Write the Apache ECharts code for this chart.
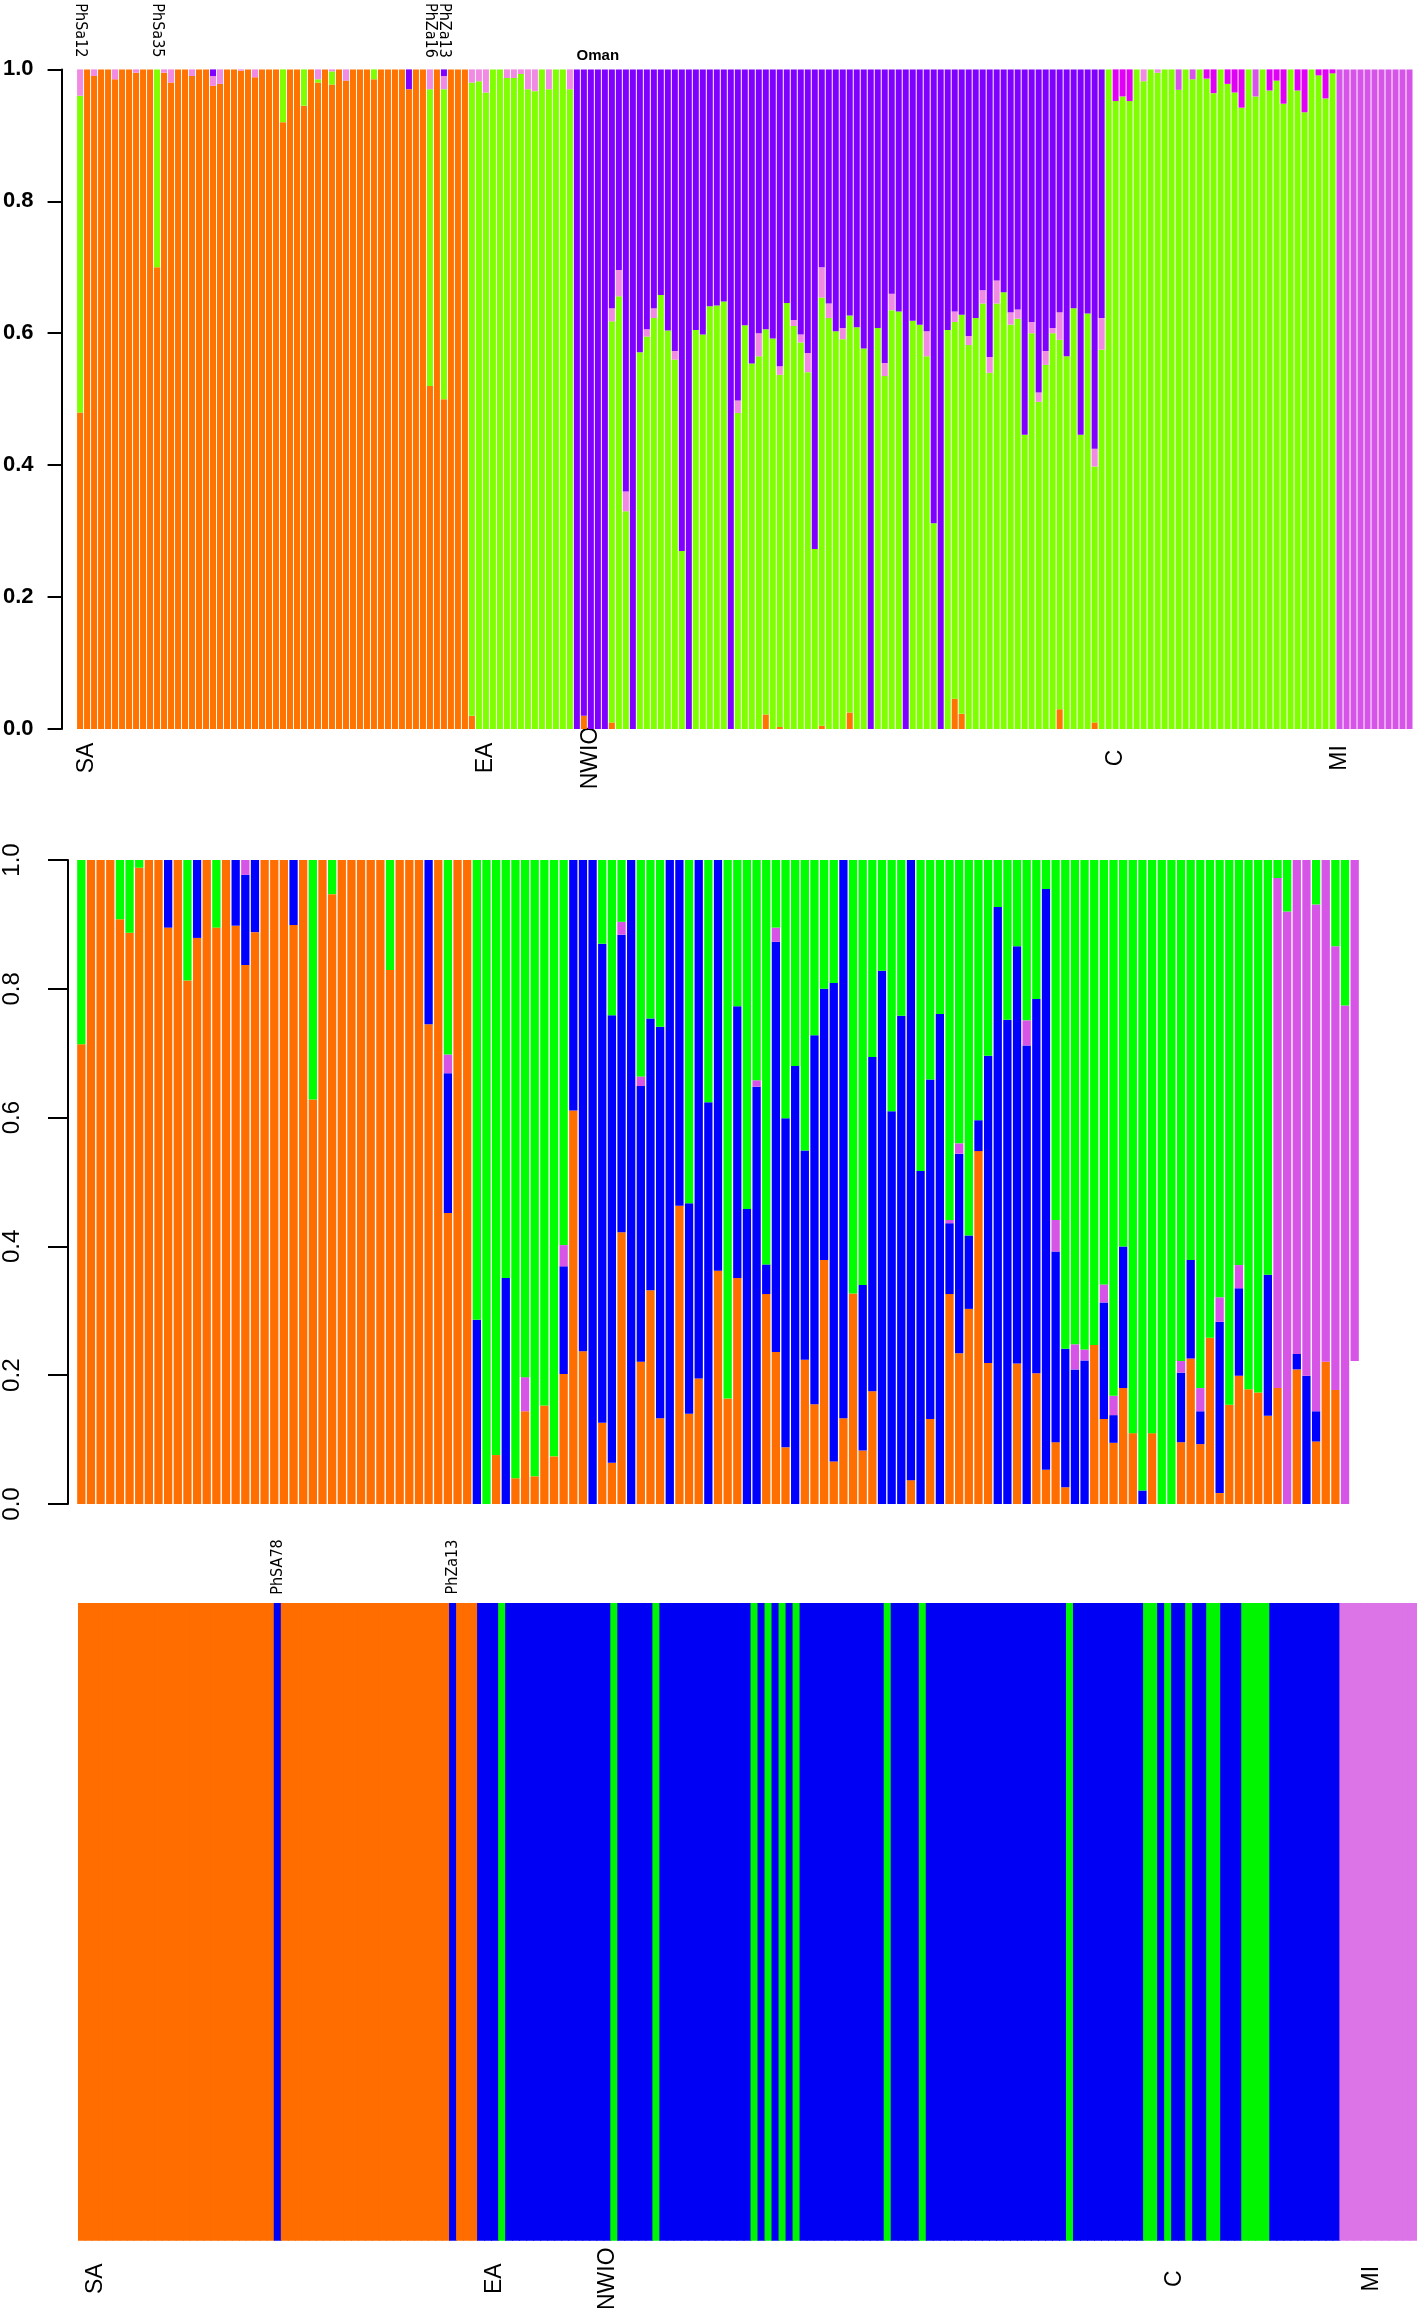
<!DOCTYPE html>
<html><head><meta charset="utf-8">
<script src="https://cdn.jsdelivr.net/npm/echarts@6/dist/echarts.min.js"></script>
<style>html,body{margin:0;padding:0;background:#fff}#c{width:1417px;height:2313px}</style>
</head><body><div id="c"></div>
<script>
// ---------------- Panel 1 (191 individuals: SA 56, EA 15, NWIO 76, C 33, MI 11) ----------------
const groupNames = ['SA','EA','NWIO','C','MI'];
const p1GroupSizes = [56,15,76,33,11];
const p1Orange = [].concat(
 [0.48,1,0.99,1,1,0.985,1,1,0.995,1, 1,0.70,0.995,0.98,1,1,0.99,1,1,0.975,
  0.978,1,1,0.998,1,0.988,1,1,1,0.92, 1,1,0.945,1,0.98,1,0.977,1,0.983,1,
  1,1,0.985,1,1,1,1,0.97,1,1, 0.52,1,0.50,1,1,1],
 [0.02,0,0,0,0,0,0,0,0,0,0,0,0,0,0],
 [0,0.02,0,0,0,0.01,0,0,0,0, 0,0,0,0,0,0,0,0,0,0, 0,0,0,0,0,0,0,0.022,0,0.003,
  0,0,0,0,0,0.005,0,0,0,0.025, 0,0,0,0,0,0,0,0,0,0, 0,0,0,0,0.046,0.023,0,0,0,0,
  0,0,0,0,0,0,0,0,0,0.03, 0,0,0,0,0.01,0],
 [0,0,0,0,0,0,0,0,0,0, 0,0,0,0,0,0,0,0,0,0, 0,0,0,0,0,0,0,0,0,0, 0,0,0],
 [0,0,0,0,0,0,0,0,0,0,0]);
const p1Green = [].concat(
 [0.48,0,0,0,0,0,0,0,0,0, 0,0.30,0,0,0,0,0,0,0,0, 0,0,0,0,0,0,0,0,0,0.08,
  0,0,0.055,0,0.005,0,0.02,0,0,0, 0,0,0.015,0,0,0,0,0,0,0, 0.45,0,0.47,0,0,0],
 [0.96,0.982,0.965,1,1,0.987,0.987,0.993,0.97,0.967,1,0.97,1,1,0.97],
 [0,0,0,0,0,0.608,0.656,0.33,0,0.571, 0.595,0.623,0.658,0.604,0.56,0.27,0,0.605,0.598,0.641,
  0.642,0.648,0,0.479,0.612,0.554,0.565,0.584,0.592,0.534, 0.646,0.611,0.586,0.541,0.273,0.649,0.623,0.603,0.591,0.602,
  0.609,0.577,0,0.608,0.535,0.635,0.633,0,0.619,0.613, 0.565,0.312,0,0.605,0.571,0.605,0.582,0.623,0.645,0.54,
  0.645,0.662,0.613,0.622,0.446,0.60,0.496,0.552,0.60,0.56, 0.565,0.638,0.446,0.63,0.388,0.575],
 [1,0.952,0.959,0.952,1,0.982,1,0.995,1,1, 0.969,1,0.985,1,0.986,0.964,1,0.978,0.965,0.942,
  1,0.959,1,0.968,0.983,0.948,1,0.968,0.935,1, 0.991,0.956,0.994],
 [0,0,0,0,0,0,0,0,0,0,0]);
const p1Pink = [].concat(
 [0.04,0,0.01,0,0,0.015,0,0,0.005,0, 0,0,0.005,0.02,0,0,0.01,0,0,0.015,
  0.022,0,0,0.002,0,0.012,0,0,0,0, 0,0,0,0,0.015,0,0.003,0,0.017,0,
  0,0,0,0,0,0,0,0,0,0, 0.03,0,0.02,0,0,0],
 [0.02,0.018,0.035,0,0,0.013,0.013,0.007,0.03,0.033,0,0.03,0,0,0.03],
 [0,0,0,0,0,0.02,0.04,0.03,0,0, 0.011,0.015,0,0,0.013,0,0,0,0,0,
  0,0,0,0.019,0,0,0.035,0,0,0.013, 0,0.009,0.012,0.029,0,0.046,0.022,0,0.017,0,
  0,0,0,0,0.02,0.025,0,0,0,0, 0.038,0,0,0,0.016,0,0.014,0,0.02,0.024,
  0.035,0,0.019,0.014,0,0.017,0.014,0.021,0.008,0.042, 0,0,0,0,0.027,0.048],
 [0,0,0,0,0,0.018,0,0.005,0,0, 0,0,0,0,0,0,0,0,0,0, 0,0,0,0,0,0,0,0,0,0, 0,0,0],
 [0,0,0,0,0,0,0,0,0,0,0]);
const p1Purple = [].concat(
 [0,0,0,0,0,0,0,0,0,0, 0,0,0,0,0,0,0,0,0,0.01, 0,0,0,0,0,0,0,0,0,0,
  0,0,0,0,0,0,0,0,0,0, 0,0,0,0,0,0,0,0.03,0,0, 0,0,0.01,0,0,0],
 [0,0,0,0,0,0,0,0,0,0,0,0,0,0,0],
 [1,0.98,1,1,1,0.362,0.304,0.64,1,0.429, 0.394,0.362,0.342,0.396,0.427,0.73,1,0.395,0.402,0.359,
  0.358,0.352,1,0.502,0.388,0.446,0.40,0.394,0.408,0.45, 0.354,0.38,0.402,0.43,0.727,0.30,0.355,0.397,0.392,0.373,
  0.391,0.423,1,0.392,0.445,0.34,0.367,1,0.381,0.387, 0.397,0.688,1,0.395,0.367,0.372,0.404,0.377,0.335,0.436,
  0.32,0.338,0.368,0.364,0.554,0.383,0.49,0.427,0.392,0.368, 0.435,0.362,0.554,0.37,0.575,0.377],
 [0,0,0,0,0,0,0,0,0,0, 0,0,0,0,0,0,0,0,0,0, 0,0,0,0,0,0,0,0,0,0, 0,0,0],
 [0,0,0,0,0,0,0,0,0,0,0]);
const p1Magenta = [].concat(
 new Array(56).fill(0), new Array(15).fill(0), new Array(76).fill(0),
 [0,0.048,0.041,0.048,0,0,0,0,0,0, 0,0,0,0,0.014,0.036,0,0.022,0.035,0.058,
  0,0,0,0.032,0.017,0.052,0,0.032,0.065,0, 0.009,0.044,0.006],
 [0,0,0,0,0,0,0,0,0,0,0]);
const p1Orchid = [].concat(
 new Array(56).fill(0), new Array(15).fill(0), new Array(76).fill(0),
 [0,0,0,0,0,0,0,0,0,0, 0.031,0,0.015,0,0,0,0,0,0,0, 0,0.041,0,0,0,0,0,0,0,0, 0,0,0],
 [1,1,1,1,1,1,1,1,1,1,1]);
const p1GroupLabels = [[1,'SA'],[58,'EA'],[73,'NWIO'],[148,'C'],[180,'MI']];
const p1TopLabels = [[0,'PhSa12'],[11,'PhSa35'],[50,'PhZa16'],[52,'PhZa13']];
const p1RegionLabels = [[74,'Oman']];

// ---------------- Panel 2 (133 individuals) ----------------
const p2Orange = [0.714,1,1,1,0.908,0.887,0.988,1,1,0.895, 1,0.813,0.879,1,0.895,1,0.898,0.837,0.888,1,
 1,1,0.899,1,0.628,1,0.947,1,1,1, 1,1,0.829,1,1,1,0.745,1,0.452,1,
 1,0,0,0.076,0,0.04,0.144,0.043,0.153,0.074, 0.202,0.611,0.237,0,0.126,0.064,0.422,0,0.221,0.332,
 0.133,0,0.463,0.14,0.195,0,0.362,0.164,0.351,0, 0,0.326,0.236,0.088,0,0.224,0.155,0.379,0.066,0.133,
 0.327,0.083,0.175,0,0,0,0.037,0,0.132,0, 0.326,0.234,0.303,0.548,0.219,0,0,0.218,0,0.203,
 0.053,0.096,0.026,0,0,0.247,0.132,0.095,0.18,0.11, 0,0.11,0,0,0.096,0.226,0.093,0.258,0.017,0.154,
 0.199,0.178,0.173,0.137,0.18,0,0.209,0,0.097,0.221, 0.177,0,0];
const p2Blue = [0,0,0,0,0,0,0,0,0,0.105, 0,0,0.121,0,0,0,0.102,0.14,0.112,0,
 0,0,0.101,0,0,0,0,0,0,0, 0,0,0,0,0,0,0.255,0,0.217,0,
 0,0.286,0,0,0.351,0,0,0,0,0, 0.167,0.389,0.763,1,0.744,0.695,0.462,1,0.428,0.422,
 0.608,1,0.537,0.327,0.805,0.624,0.638,0,0.422,0.458, 0.648,0.046,0.637,0.511,0.68,0.325,0.573,0.421,0.743,0.867,
 0,0.257,0.519,0.828,0.61,0.758,0.963,0.517,0.527,0.761, 0.11,0.31,0.114,0.048,0.477,0.927,0.752,0.648,0.712,0.581,
 0.902,0.296,0.215,0.209,0.223,0,0.181,0.043,0.22,0, 0.021,0,0,0,0.108,0.153,0.051,0,0.266,0,
 0.136,0,0,0.219,0,0,0.024,0.199,0.047,0, 0,0,0];
const p2Pink = [0,0,0,0,0,0,0,0,0,0, 0,0,0,0,0,0,0,0.023,0,0,
 0,0,0,0,0,0,0,0,0,0, 0,0,0,0,0,0,0,0,0.029,0,
 0,0,0,0,0,0,0.053,0,0,0, 0.033,0,0,0,0,0,0.02,0,0.015,0,
 0,0,0,0,0,0,0,0,0,0, 0.01,0,0.022,0,0,0,0,0,0,0,
 0,0,0,0,0,0,0,0,0,0, 0.005,0.016,0,0,0,0,0,0,0.039,0,
 0,0.049,0,0.039,0.017,0,0.028,0.03,0,0, 0,0,0,0,0.018,0,0.036,0,0.038,0,
 0.036,0,0,0,0.792,0.92,0.767,0.801,0.787,0.779, 0.689,0.774,0.778];
const p2Green = [0.286,0,0,0,0.092,0.113,0.012,0,0,0, 0,0.187,0,0,0.105,0,0,0,0,0,
 0,0,0,0,0.372,0,0.053,0,0,0, 0,0,0.171,0,0,0,0,0,0.302,0,
 0,0.714,1,0.924,0.649,0.96,0.803,0.957,0.847,0.926, 0.598,0,0,0,0.13,0.241,0.096,0,0.336,0.246,
 0.259,0,0,0.533,0,0.376,0,0.836,0.227,0.542, 0.342,0.628,0.105,0.401,0.32,0.451,0.272,0.20,0.191,0,
 0.673,0.66,0.306,0.172,0.39,0.242,0,0.483,0.341,0.239, 0.559,0.44,0.583,0.404,0.304,0.073,0.248,0.134,0.249,0.216,
 0.045,0.559,0.759,0.752,0.76,0.753,0.659,0.832,0.60,0.89, 0.979,0.89,1,1,0.778,0.621,0.82,0.742,0.679,0.846,
 0.629,0.822,0.827,0.644,0.028,0.08,0,0,0.069,0, 0.134,0.226,0];
const p2Missing = [0,0,0,0,0,0,0,0,0,0, 0,0,0,0,0,0,0,0,0,0, 0,0,0,0,0,0,0,0,0,0,
 0,0,0,0,0,0,0,0,0,0, 0,0,0,0,0,0,0,0,0,0, 0,0,0,0,0,0,0,0,0,0,
 0,0,0,0,0,0,0,0,0,0, 0,0,0,0,0,0,0,0,0,0, 0,0,0,0,0,0,0,0,0,0,
 0,0,0,0,0,0,0,0,0,0, 0,0,0,0,0,0,0,0,0,0, 0,0,0,0,0,0,0,0,0,0,
 0,0,0,0,0,0,0,0,0,0, 0,0,0.222];

// ---------------- Panel 3 (191 individuals, hard assignment) ----------------
// O = orange, B = blue, G = green, M = orchid
const p3Assign = ('OOOOOOOOOO'+'OOOOOOOOOO'+'OOOOOOOOBO'+'OOOOOOOOOO'+'OOOOOOOOOO'+
 'OOOBOOOBBB'+'GBBBBBBBBB'+'BBBBBBGBBB'+'BBGBBBBBBB'+'BBBBBBGBGB'+
 'GBGBBBBBBB'+'BBBBBGBBBB'+'GBBBBBBBBB'+'BBBBBBBBBB'+'BGBBBBBBBB'+
 'BBGGBGBBGB'+'BGGBBBGGGG'+'BBBBBBBBBB'+'MMMMMMMMMM'+'M').split('');
const p3Colors = {O:'#FF6C00', B:'#0000F5', G:'#00F500', M:'#DC73E6'};
const p3GroupLabels = [[2,'SA'],[59,'EA'],[75,'NWIO'],[156,'C'],[184,'MI']];
const p3TopLabels = [[28,'PhSA78'],[53,'PhZa13']];

// ---------------- build ----------------
function ids(prefix, n){ const a=[]; for(let i=1;i<=n;i++) a.push(prefix+i); return a; }
const p1Ids = []; p1GroupSizes.forEach((n,g)=>{ for(let i=1;i<=n;i++) p1Ids.push(groupNames[g]+'_'+i); });
const p2Ids = ids('ind', p2Orange.length);
const p3Ids = ids('hap', p3Assign.length);
function labelAt(list, i){ for (const [k,t] of list) if (k===i) return t; return ''; }
const p3Data = p3Assign.map(c => ({value:1, itemStyle:{color:p3Colors[c]}}));

function bar(name, data, color, ax, stack, gap){
  return {type:'bar', name, data, xAxisIndex:ax[0], yAxisIndex:ax[1], stack,
    barCategoryGap:gap, itemStyle:{color}, silent:true, animation:false};
}
const noLine = {show:false};
const narrow = "'DejaVu Sans Condensed', 'Liberation Sans Narrow', 'Noto Sans', sans-serif";
function catAxis(grid, data, pos, label){
  return {gridIndex:grid, type:'category', data, position:pos, axisLine:noLine, axisTick:noLine,
    splitLine:noLine, axisLabel:Object.assign({interval:0, color:'#000', fontFamily:'Liberation Sans'}, label)};
}

const p3Series = bar('p3 cluster', p3Data, '#0000F5', [4,2], 'p3', '0%');
p3Series.barWidth = 8;   // slight overlap so neighbouring solid bars leave no seams

const option = {
  backgroundColor:'#fff',
  animation:false,
  grid:[
    {left:76, right:4, top:65, height:664},
    {left:76.5, right:57.5, top:860, height:644},
    {left:78, right:0, top:1603, height:639}
  ],
  xAxis:[
    catAxis(0, p1Ids, 'bottom', {rotate:90, margin:29, align:'center', verticalAlign:'middle', fontSize:23,
      formatter:(v,i)=>labelAt(p1GroupLabels,i)}),
    catAxis(0, p1Ids, 'top', {rotate:90, margin:39, align:'center', verticalAlign:'middle', fontSize:16,
      fontFamily:narrow, formatter:(v,i)=>labelAt(p1TopLabels,i)}),
    catAxis(0, p1Ids, 'top', {rotate:0, margin:14, align:'center', verticalAlign:'middle', fontSize:15,
      fontWeight:'bold', formatter:(v,i)=>labelAt(p1RegionLabels,i)}),
    catAxis(1, p2Ids, 'bottom', {show:false}),
    catAxis(2, p3Ids, 'bottom', {rotate:90, margin:38, align:'center', verticalAlign:'middle', fontSize:23,
      formatter:(v,i)=>labelAt(p3GroupLabels,i)}),
    catAxis(2, p3Ids, 'top', {rotate:-90, margin:36, align:'center', verticalAlign:'middle', fontSize:16,
      fontFamily:narrow, formatter:(v,i)=>labelAt(p3TopLabels,i)})
  ],
  yAxis:[
    {gridIndex:0, type:'value', min:0, max:1, interval:0.2, offset:15,
     axisLine:{show:true, lineStyle:{color:'#000', width:2}},
     axisTick:{show:true, length:14, lineStyle:{color:'#000', width:2}},
     splitLine:noLine,
     axisLabel:{margin:28, fontSize:22, fontWeight:'bold', color:'#000', fontFamily:'Liberation Sans',
       formatter:v=>v.toFixed(1)}},
    {gridIndex:1, type:'value', min:0, max:1, interval:0.2, offset:8.5,
     axisLine:{show:true, lineStyle:{color:'#000', width:2}},
     axisTick:{show:true, length:20, lineStyle:{color:'#000', width:2}},
     splitLine:noLine,
     axisLabel:{rotate:90, margin:56, align:'center', verticalAlign:'middle', fontSize:24, color:'#000',
       fontFamily:'Liberation Sans', formatter:v=>v.toFixed(1)}},
    {gridIndex:2, type:'value', min:0, max:1, show:false}
  ],
  series:[
    bar('p1 orange', p1Orange, '#FF7300', [0,0], 'p1', '14%'),
    bar('p1 green', p1Green, '#80FF00', [0,0], 'p1', '14%'),
    bar('p1 pink', p1Pink, '#F08AE2', [0,0], 'p1', '14%'),
    bar('p1 purple', p1Purple, '#7F00FF', [0,0], 'p1', '14%'),
    bar('p1 magenta', p1Magenta, '#E000F5', [0,0], 'p1', '14%'),
    bar('p1 orchid', p1Orchid, '#D655E8', [0,0], 'p1', '14%'),
    bar('p2 missing', p2Missing, 'rgba(255,255,255,0)', [3,1], 'p2', '14%'),
    bar('p2 orange', p2Orange, '#FF6E00', [3,1], 'p2', '14%'),
    bar('p2 blue', p2Blue, '#0000FF', [3,1], 'p2', '14%'),
    bar('p2 pink', p2Pink, '#D655E6', [3,1], 'p2', '14%'),
    bar('p2 green', p2Green, '#00FF00', [3,1], 'p2', '14%'),
    p3Series
  ]
};
const chart = echarts.init(document.getElementById('c'), null, {renderer:'canvas'});
chart.setOption(option);
</script></body></html>
